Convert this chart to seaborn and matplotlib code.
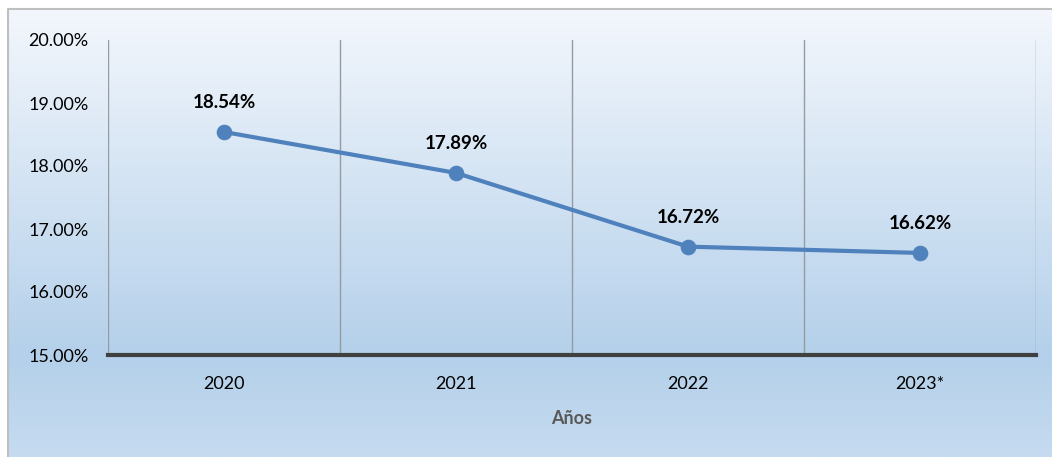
import numpy as np
import pandas as pd
import matplotlib
matplotlib.use("Agg")
import matplotlib.pyplot as plt
from matplotlib.colors import LinearSegmentedColormap
from matplotlib.patches import Rectangle
import seaborn as sns

years = ["2020", "2021", "2022", "2023*"]
values = [18.54, 17.89, 16.72, 16.62]
y_ticks = [15, 16, 17, 18, 19, 20]
x_title = "Años"

sns.set_style("white")
plt.rcParams['font.family'] = ['Lato', 'DejaVu Sans']

W, H = 1052, 457
fig = plt.figure(figsize=(W / 100, H / 100), dpi=100)

# background gradient
bg = fig.add_axes([0, 0, 1, 1], zorder=0)
cmap = LinearSegmentedColormap.from_list(
    "bg", [(0.0, "#c6dbf0"), (0.22, "#b4d0ea"), (1.0, "#f5f8fd")])
grad = np.linspace(0, 1, 256).reshape(-1, 1)
bg.imshow(grad, aspect="auto", cmap=cmap, origin="lower", extent=[0, 1, 0, 1])
bg.set_xlim(0, 1)
bg.set_ylim(0, 1)
bg.axis("off")
# white margin outside border and grey border
bg.add_patch(Rectangle((0, 1 - 8 / H), 1, 8 / H, color="white", zorder=2))
bg.add_patch(Rectangle((0, 0), 7 / W, 1, color="white", zorder=2))
bg.plot([7.5 / W, 7.5 / W, 1], [0, 1 - 8.5 / H, 1 - 8.5 / H], color="#bfbfbf", lw=1.5, zorder=3)

left, right = 108 / W, 1036 / W
bottom, top = 1 - 355 / H, 1 - 40 / H
ax = fig.add_axes([left, bottom, right - left, top - bottom], zorder=1)
ax.patch.set_alpha(0)

df = pd.DataFrame({"pos": np.arange(len(years)), "val": values})
sns.lineplot(data=df, x="pos", y="val", ax=ax, color="#4f81bd", lw=3,
             marker="o", markersize=10.5, markeredgecolor="#4f81bd")

ax.set_xlim(-0.5, len(years) - 0.5)
ax.set_ylim(15, 20)
ax.set_xticks(np.arange(len(years)))
ax.set_xticklabels(years, fontsize=13, color="#000000")
ax.set_xticks(np.arange(len(years) + 1) - 0.5, minor=True)
ax.grid(which="minor", axis="x", color="#959ba1", lw=1)
ax.grid(which="major", visible=False)
ax.set_yticks(y_ticks)
ax.set_yticklabels([f"{t:.2f}%" for t in y_ticks], fontsize=13, color="#000000")
ax.tick_params(axis="both", which="both", length=0)
ax.tick_params(axis="y", pad=14)
ax.tick_params(axis="x", pad=15)
for s in ["top", "right", "left"]:
    ax.spines[s].set_visible(False)
ax.spines["bottom"].set_color("#404040")
ax.spines["bottom"].set_linewidth(3)

for i, v in enumerate(values):
    ax.annotate(f"{v:.2f}%", (i, v), xytext=(0, 15), textcoords="offset points",
                ha="center", va="bottom", fontsize=13.5, fontweight="bold", color="#000000")

ax.set_xlabel(x_title, fontsize=13, fontweight="bold", color="#595959", labelpad=13)
ax.set_ylabel("")

fig.savefig("out.png", dpi=100)
